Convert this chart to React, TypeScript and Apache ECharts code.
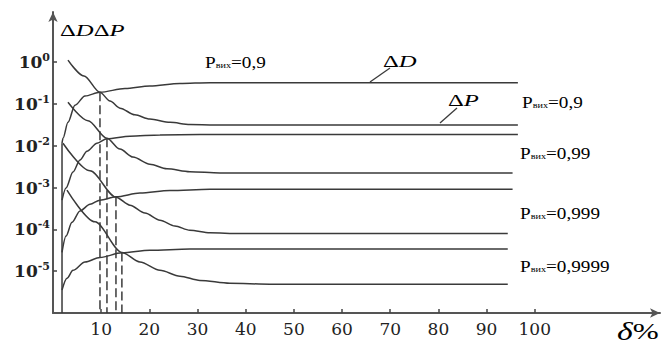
import React, { useEffect, useRef } from 'react';
import * as echarts from 'echarts';

// x: δ, %   y: log10 of ΔD / ΔP
const xTicks = [10, 20, 30, 40, 50, 60, 70, 80, 90, 100];
const yTicks = [-5, -4, -3, -2, -1, 0];

const dD_09: [number, number][] = [[1.87, -1.94], [2.07, -1.82], [3.11, -1.44], [4.56, -1.03], [6.64, -0.81], [9.75, -0.72], [14.94, -0.63], [20.1, -0.57], [26.35, -0.51], [32.6, -0.49], [96.5, -0.49]];
const dP_09: [number, number][] = [[3.11, 0.05], [6.43, -0.33], [9.75, -0.72], [11.83, -0.93], [13.9, -1.1], [17.0, -1.26], [20.1, -1.36], [24.3, -1.44], [28.4, -1.49], [33.6, -1.5], [96.5, -1.5]];
const dD_099: [number, number][] = [[1.87, -3.3], [2.7, -3.01], [4.15, -2.63], [5.6, -2.34], [7.05, -2.13], [9.13, -1.94], [11.2, -1.83], [15.98, -1.77], [22.2, -1.74], [30.5, -1.73], [96.5, -1.73]];
const dP_099: [number, number][] = [[3.11, -0.96], [7.26, -1.4], [11.2, -1.82], [13.9, -2.08], [16.6, -2.27], [20.1, -2.44], [23.65, -2.55], [28.4, -2.62], [34.6, -2.65], [95.4, -2.65]];
const dD_0999: [number, number][] = [[1.87, -4.55], [2.7, -4.16], [3.94, -3.83], [5.6, -3.56], [7.68, -3.4], [9.75, -3.3], [13.07, -3.22], [18.05, -3.13], [24.27, -3.07], [32.57, -3.04], [95.4, -3.04]];
const dP_0999: [number, number][] = [[2.07, -1.94], [7.68, -2.6], [13.07, -3.23], [15.98, -3.42], [19.09, -3.61], [22.2, -3.78], [25.3, -3.92], [28.4, -4.02], [32.57, -4.08], [38.8, -4.1], [94.4, -4.1]];
const dD_09999: [number, number][] = [[1.87, -5.45], [2.9, -5.17], [4.15, -4.98], [6.64, -4.78], [9.75, -4.67], [14.3, -4.56], [20.1, -4.5], [28.4, -4.47], [94.4, -4.47]];
const dP_09999: [number, number][] = [[2.9, -3.06], [8.71, -3.82], [14.3, -4.55], [18.05, -4.78], [22.2, -4.98], [26.35, -5.12], [30.5, -5.22], [36.7, -5.29], [45.0, -5.31], [94.4, -5.31]];
const startLine: [number, number][] = [[1.87, -6], [1.87, -1.94]];

const dashX = [9.75, 11.2, 13.07, 14.3];
const dashTop = [-0.72, -1.82, -3.23, -4.55];
const dashBottom = -6;

const pLabels = ['=0,9', '=0,9', '=0,99', '=0,999', '=0,9999'];

export default function App() {
  const ref = useRef<HTMLDivElement>(null);
  useEffect(() => {
    const chart = echarts.init(ref.current!, null, { renderer: 'svg' });
    const lineColor = '#3a3a3a';
    const textColor = '#222';
    const curve = (name: string, data: [number, number][]) => ({
      type: 'line', name, data, symbol: 'none', smooth: 0.3, smoothMonotone: 'x',
      lineStyle: { color: lineColor, width: 1.5 }, silent: true, z: 3,
    });
    const dashed = dashX.map((x, i) => ({
      type: 'line', name: 'dash' + i, data: [[x, dashTop[i]], [x, dashBottom]], symbol: 'none',
      lineStyle: { color: lineColor, width: 1.5, type: [9, 4] }, silent: true, z: 2,
    }));
    const pRich = {
      p: { fontFamily: 'Liberation Serif', fontSize: 17, color: textColor },
      s: { fontFamily: 'Liberation Serif', fontSize: 9, color: textColor, verticalAlign: 'bottom', padding: [0, 0, 1, 0] },
    };
    const pText = (x: number, y: number, v: string) => ({
      type: 'text', x, y, scaleX: 1.13,
      style: { text: `{p|P}{s|вих}{p|${v}}`, rich: pRich, verticalAlign: 'middle', align: 'left' },
    });
    const greek = (x: number, y: number, parts: string) => ({
      type: 'text', x, y, scaleX: 1.45,
      style: {
        text: parts,
        rich: {
          g: { fontFamily: 'Liberation Serif', fontSize: 17, color: textColor },
          i: { fontFamily: 'Liberation Serif', fontSize: 17, fontStyle: 'italic', color: textColor },
        },
        verticalAlign: 'middle', align: 'left',
      },
    });
    const option: any = {
      animation: false,
      backgroundColor: '#fff',
      grid: { left: 53, right: 10, top: 12, bottom: 34 },
      xAxis: {
        type: 'value', min: 0, max: 126, interval: 10,
        axisLine: { onZero: false, lineStyle: { color: '#555', width: 2 }, symbol: ['none', 'arrow'], symbolSize: [7, 10] },
        axisTick: { customValues: xTicks, inside: true, length: 4, lineStyle: { color: '#444', width: 1.5 } },
        axisLabel: { customValues: xTicks, fontFamily: 'DejaVu Serif', fontSize: 17, color: textColor, margin: 7 },
        splitLine: { show: false },
      },
      yAxis: {
        type: 'value', min: -6, max: 1.2, interval: 1,
        axisLine: { show: true, onZero: false, lineStyle: { color: '#555', width: 2 }, symbol: ['none', 'arrow'], symbolSize: [7, 10] },
        axisTick: { show: true, customValues: yTicks, inside: true, length: 4, lineStyle: { color: '#444', width: 1.5 } },
        axisLabel: {
          customValues: yTicks, margin: 3,
          formatter: (v: number) => `{b|10}{s|${String(Math.round(v))}}`,
          rich: {
            b: { fontFamily: 'DejaVu Serif', fontWeight: 'bold', fontSize: 17, color: textColor, lineHeight: 20 },
            s: { fontFamily: 'DejaVu Serif', fontWeight: 'bold', fontSize: 11, color: textColor, verticalAlign: 'top', lineHeight: 12 },
          },
        },
        splitLine: { show: false },
      },
      graphic: [
        greek(60, 30, '{g|Δ}{i|D}{g|Δ}{i|P}'),
        greek(383, 61, '{g|Δ}{i|D}'),
        greek(448, 100, '{g|Δ}{i|P}'),
        { type: 'line', shape: { x1: 390, y1: 68, x2: 370, y2: 82 }, style: { stroke: lineColor, lineWidth: 1.3 } },
        { type: 'line', shape: { x1: 457, y1: 108, x2: 440, y2: 123 }, style: { stroke: lineColor, lineWidth: 1.3 } },
        pText(205, 62, pLabels[0]),
        pText(522, 102, pLabels[1]),
        pText(520, 153, pLabels[2]),
        pText(520, 213, pLabels[3]),
        pText(520, 266, pLabels[4]),
        {
          type: 'text', x: 617, y: 331, scaleX: 1.3,
          style: {
            text: '{i|δ}{g|%}', verticalAlign: 'middle', align: 'left',
            rich: {
              i: { fontFamily: 'Liberation Serif', fontSize: 26, fontStyle: 'italic', color: textColor },
              g: { fontFamily: 'Liberation Serif', fontSize: 24, color: textColor },
            },
          },
        },
      ],
      series: [
        { type: 'line', name: 'start', data: startLine, symbol: 'none', lineStyle: { color: lineColor, width: 1.5 }, silent: true },
        curve('ΔD 0,9', dD_09),
        curve('ΔP 0,9', dP_09),
        curve('ΔD 0,99', dD_099),
        curve('ΔP 0,99', dP_099),
        curve('ΔD 0,999', dD_0999),
        curve('ΔP 0,999', dP_0999),
        curve('ΔD 0,9999', dD_09999),
        curve('ΔP 0,9999', dP_09999),
        ...dashed,
      ],
    };
    chart.setOption(option);
    return () => chart.dispose();
  }, []);
  return <div ref={ref} style={{ position: 'fixed', left: 0, top: 0, width: 670, height: 347, background: '#fff' }} />;
}
